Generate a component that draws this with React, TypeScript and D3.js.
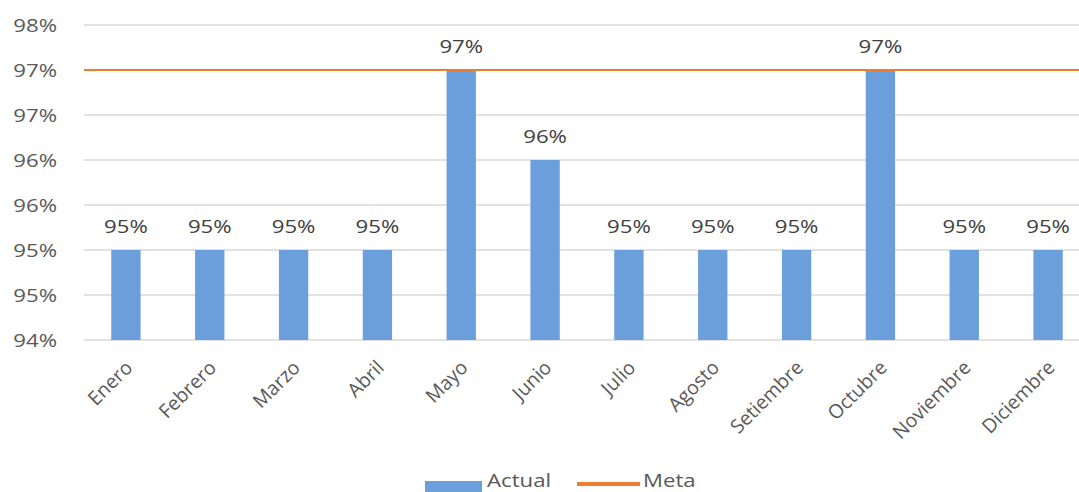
import React from "react";
import * as d3 from "d3";

const months = ["Enero","Febrero","Marzo","Abril","Mayo","Junio","Julio","Agosto","Setiembre","Octubre","Noviembre","Diciembre"];
const actual = [95,95,95,95,97,96,95,95,95,97,95,95];
const meta = [97,97,97,97,97,97,97,97,97,97,97,97];
const yTicks = [94,94.5,95,95.5,96,96.5,97,97.5];

const W = 1079, H = 492;
const FONT = "'Open Sans', 'DejaVu Sans', sans-serif";
const FS = 18.5;
const SX = 1.2;
const fmt = (v: number) => Math.round(v + 1e-9) + "%";

export default function App() {
  const x = d3.scaleBand<string>().domain(months).range([84, 1090]).paddingInner(0.65).paddingOuter(0.325);
  const y = d3.scaleLinear().domain([94, 97.5]).range([340, 25]);
  const bw = x.bandwidth();
  const line = d3.line<number>().x((_, i) => (i === 0 ? 84 : i === meta.length - 1 ? 1090 : x(months[i])! + bw / 2)).y(d => y(d));
  return (
    <svg width={W} height={H} style={{ position: "absolute", left: 0, top: 0, background: "#fff" }} fontFamily={FONT}>
      {yTicks.map(t => (
        <g key={t}>
          <line x1={84} x2={1090} y1={y(t)} y2={y(t)} stroke="#d9d9d9" strokeWidth={1.3} />
          <text transform={`translate(57,${y(t)}) scale(${SX},1)`} dy="0.36em" textAnchor="end" fontSize={FS} fill="#595959">{fmt(t)}</text>
        </g>
      ))}
      {actual.map((v, i) => (
        <rect key={i} x={x(months[i])!} y={y(v)} width={bw} height={y(94) - y(v)} fill="#6a9fdb" />
      ))}
      <path d={line(meta)!} fill="none" stroke="#ed7d31" strokeWidth={2.2} />
      {actual.map((v, i) => (
        <text key={i} transform={`translate(${x(months[i])! + bw / 2},${y(v) - 17.5}) scale(${SX},1)`} textAnchor="middle" fontSize={FS} fill="#404040">{fmt(v)}</text>
      ))}
      {months.map((m) => {
        const cx = x(m)! + bw / 2 + 3;
        return (
          <text key={m} transform={`translate(${cx},364) rotate(-45)`} textAnchor="end" dy="0.35em" fontSize={19.5} fill="#595959">{m}</text>
        );
      })}
      <g>
        <rect x={425} y={481} width={57} height={11} fill="#6a9fdb" />
        <text transform={`translate(487,487) scale(${SX},1)`} fontSize={FS} fill="#595959">Actual</text>
        <line x1={577} x2={640} y1={484} y2={484} stroke="#ed7d31" strokeWidth={4} />
        <text transform={`translate(643,487) scale(${SX},1)`} fontSize={FS} fill="#595959">Meta</text>
      </g>
    </svg>
  );
}
